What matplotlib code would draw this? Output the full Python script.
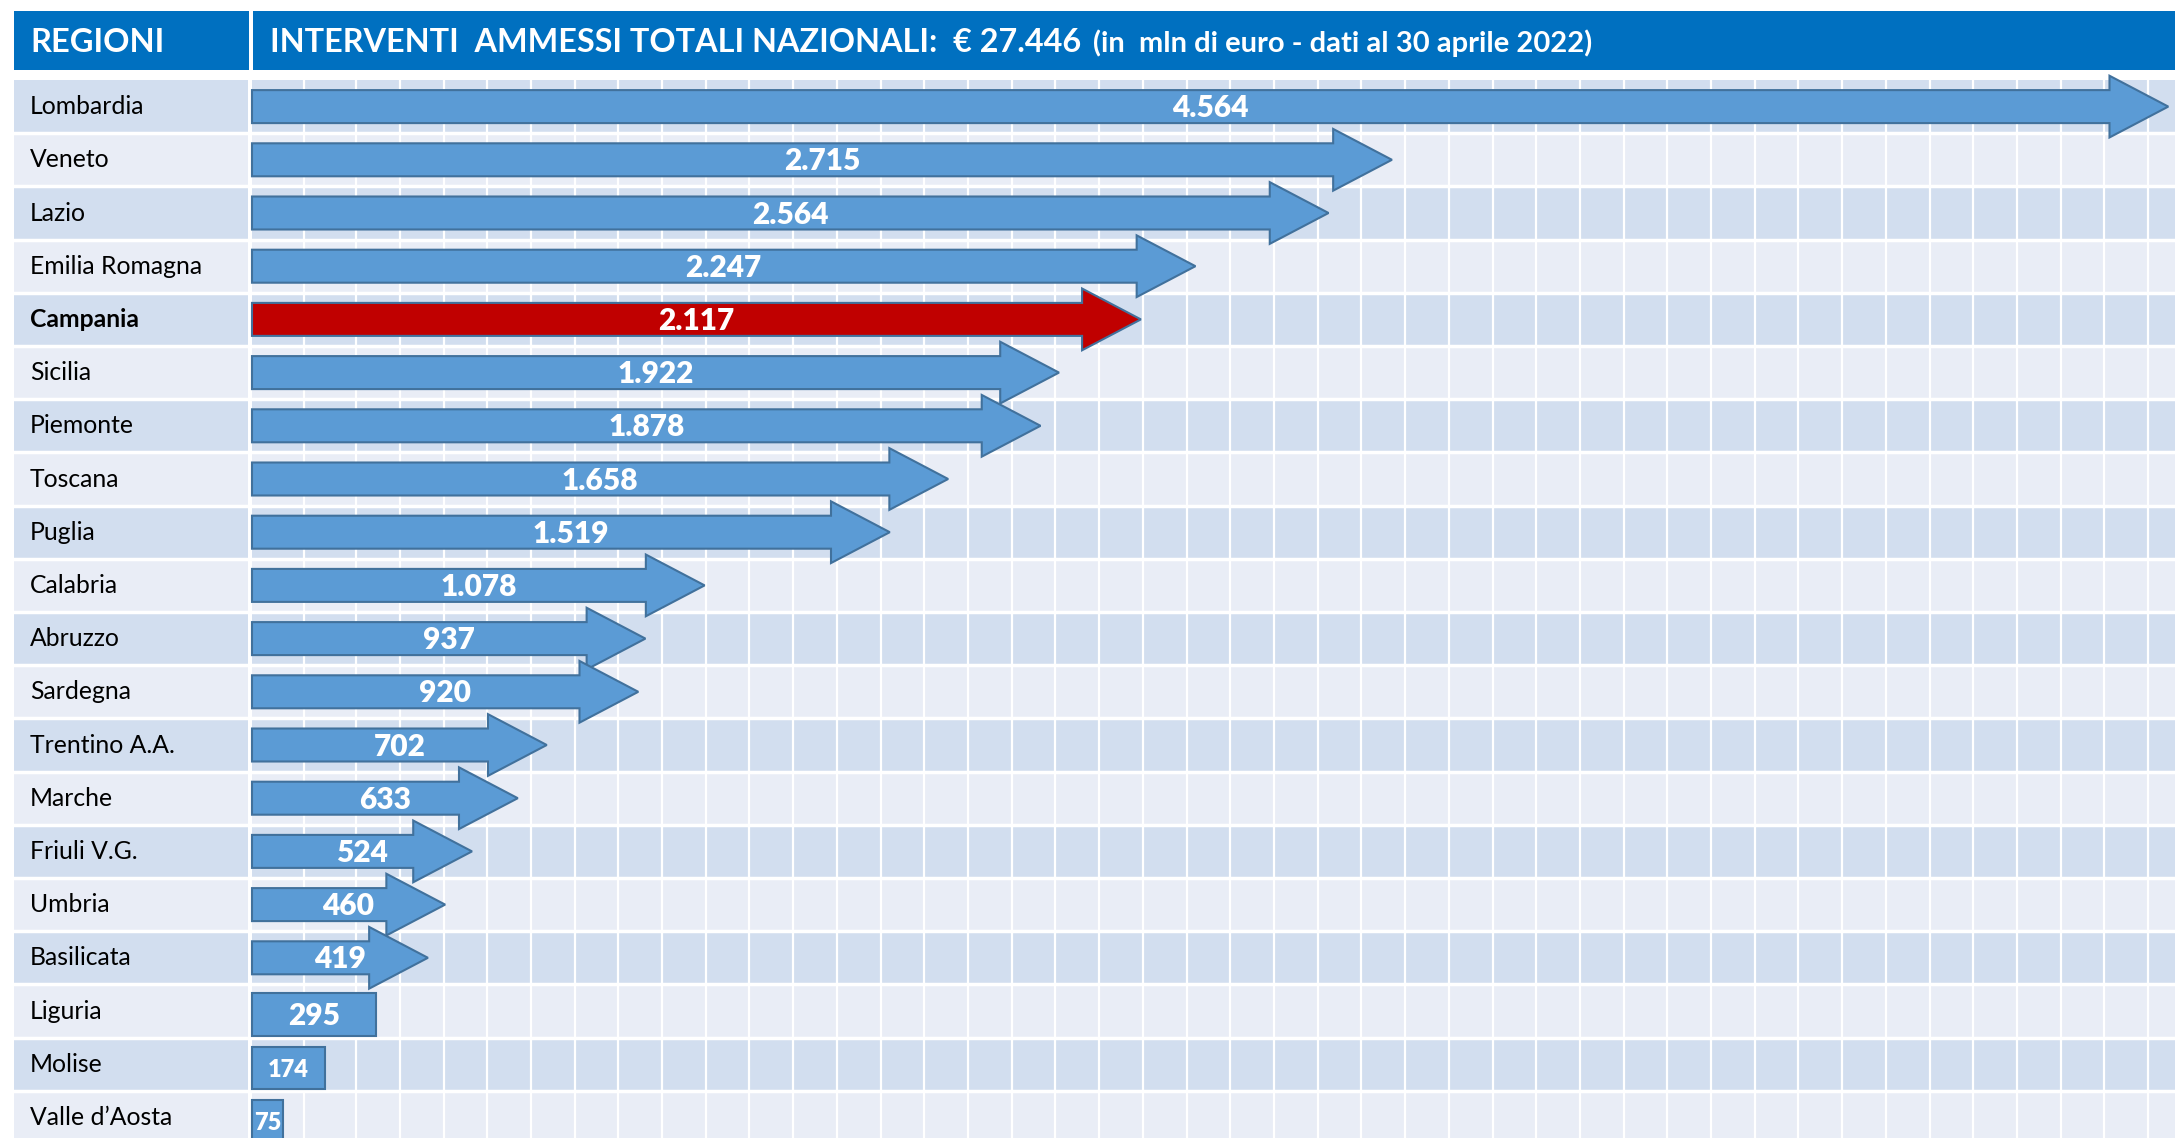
import numpy as np
import matplotlib
matplotlib.use("Agg")
import matplotlib.pyplot as plt
from matplotlib.patches import Polygon, Rectangle

# dati (mln di euro, al 30 aprile 2022)
regioni = ["Lombardia", "Veneto", "Lazio", "Emilia Romagna", "Campania", "Sicilia",
           "Piemonte", "Toscana", "Puglia", "Calabria", "Abruzzo", "Sardegna",
           "Trentino A.A.", "Marche", "Friuli V.G.", "Umbria", "Basilicata",
           "Liguria", "Molise", "Valle d\u2019Aosta"]
valori = [4564, 2715, 2564, 2247, 2117, 1922, 1878, 1658, 1519, 1078, 937, 920,
          702, 633, 524, 460, 419, 295, 174, 75]
etichette = ["4.564", "2.715", "2.564", "2.247", "2.117", "1.922", "1.878", "1.658",
             "1.519", "1.078", "937", "920", "702", "633", "524", "460", "419",
             "295", "174", "75"]
forma = ["freccia"] * 17 + ["box"] * 3
evidenziata = "Campania"
titolo = "INTERVENTI  AMMESSI TOTALI NAZIONALI:  \u20ac 27.446"
sottotitolo = "(in  mln di euro - dati al 30 aprile 2022)"

W, H = 2175, 1138
FONT = ["Lato", "DejaVu Sans"]
plt.rcParams["font.family"] = FONT

BLU_HEAD = "#0070C0"
STRIPE_DARK = "#D2DEEF"
STRIPE_LIGHT = "#E9EDF6"
ARROW_FILL = "#5B9BD5"
ARROW_EDGE = "#41719C"
RED = "#C00000"

fig = plt.figure(figsize=(W / 100, H / 100), dpi=100)
fig.patch.set_facecolor("white")

top_px = 80
row_px = 53.2
n = len(regioni)
ybottom = -0.5 + (H - top_px) / row_px

# intestazione
fig.add_artist(Rectangle((14 / W, 1 - 70 / H), (249 - 14) / W, 59 / H,
                         transform=fig.transFigure, color=BLU_HEAD, lw=0))
fig.add_artist(Rectangle((253 / W, 1 - 70 / H), (W - 253) / W, 59 / H,
                         transform=fig.transFigure, color=BLU_HEAD, lw=0))
fig.text(30 / W, 1 - 52 / H, "REGIONI", color="white", fontsize=23.5,
         fontweight="bold", va="baseline", ha="left")
t1 = fig.text(270 / W, 1 - 52 / H, titolo, color="white", fontsize=23.3,
              fontweight="bold", va="baseline", ha="left")
renderer = fig.canvas.get_renderer()
bb = t1.get_window_extent(renderer=renderer)
fig.text((bb.x1 + 12) / W, 1 - 52 / H, sottotitolo, color="white", fontsize=21,
         fontweight="bold", va="baseline", ha="left")

# colonna regioni
lax = fig.add_axes([14 / W, 0, (248 - 14) / W, (H - top_px) / H])
lax.set_xlim(0, 1)
lax.set_ylim(ybottom, -0.5)
lax.axis("off")
for i, nome in enumerate(regioni):
    lax.axhspan(i - 0.5, i + 0.5, color=STRIPE_DARK if i % 2 == 0 else STRIPE_LIGHT, lw=0, zorder=0)
    lax.axhline(i + 0.5, color="white", lw=2.5, zorder=1)
    lax.text(16 / 234, i, nome, fontsize=17.8, va="center", ha="left", color="black",
             fontweight="bold" if nome == evidenziata else "normal")

# area grafico
ax = fig.add_axes([252 / W, 0, (W - 252) / W, (H - top_px) / H])
xmax = 4580
ax.set_xlim(0, xmax)
ax.set_ylim(ybottom, -0.5)
ax.axis("off")
for i in range(n):
    ax.axhspan(i - 0.5, i + 0.5, color=STRIPE_DARK if i % 2 == 0 else STRIPE_LIGHT, lw=0, zorder=0)
grid_x = [124, 248] + list(np.arange(352, xmax, 104.1))
for gx in grid_x:
    ax.axvline(gx, color="white", lw=1.6, zorder=1)
for i in range(n):
    ax.axhline(i + 0.5, color="white", lw=2.5, zorder=1.5)

hl = 140        # lunghezza punta (unita dati)
bh = 0.31       # mezza altezza corpo
hh = 0.58       # mezza altezza punta
for i, (nome, v, lab, f) in enumerate(zip(regioni, valori, etichette, forma)):
    fill = RED if nome == evidenziata else ARROW_FILL
    if f == "freccia":
        pts = [(0, i - bh), (v - hl, i - bh), (v - hl, i - hh), (v, i),
               (v - hl, i + hh), (v - hl, i + bh), (0, i + bh)]
        ax.add_patch(Polygon(pts, closed=True, facecolor=fill, edgecolor=ARROW_EDGE,
                             lw=1.5, zorder=3, clip_on=False))
        yc = i
    else:
        yc = i + 0.07
        ax.add_patch(Rectangle((0, yc - 0.4), v, 0.8, facecolor=fill, edgecolor=ARROW_EDGE,
                               lw=1.5, zorder=3, clip_on=False))
    ax.text(v / 2, yc + 0.03, lab, color="white", fontweight="heavy",
            fontsize=21.5 if v >= 250 else 17, ha="center", va="center", zorder=4)

fig.savefig("out.png", dpi=100)
